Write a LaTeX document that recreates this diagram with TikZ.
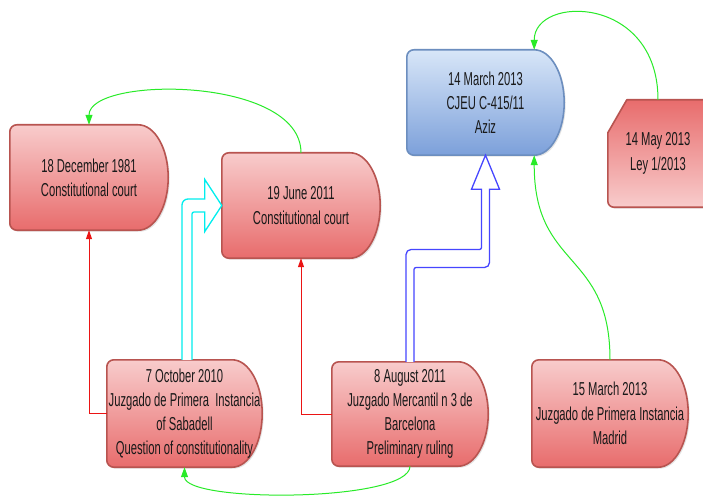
\documentclass[tikz,border=0pt]{standalone}
\usepackage{fontspec}
\setmainfont{Liberation Sans}[FakeStretch=0.6]
\usetikzlibrary{calc,arrows.meta,shadows}
\pgfdeclarelayer{background}
\pgfsetlayers{background,main}
\definecolor{rtop}{RGB}{248,204,204}
\definecolor{rbot}{RGB}{232,108,108}
\definecolor{rline}{RGB}{184,84,80}
\definecolor{btop}{RGB}{216,230,248}
\definecolor{bbot}{RGB}{124,160,218}
\definecolor{bline}{RGB}{108,142,191}
\definecolor{gline}{RGB}{40,235,40}
\definecolor{cline}{RGB}{0,238,238}
\definecolor{blline}{RGB}{70,70,255}
\definecolor{redline}{RGB}{235,20,20}
\definecolor{txtc}{RGB}{25,25,25}
\tikzset{
  lbl/.style={align=center, inner sep=0pt, text=txtc, font=\fontsize{18.7}{24.2}\selectfont},
  boxshadow/.style={drop shadow={opacity=0.22, shadow xshift=1.5pt, shadow yshift=-1.5pt}},
  redbox/.style={boxshadow, shade, top color=rtop, bottom color=rbot, draw=rline, line width=1.6pt, line join=round},
  redboxinv/.style={boxshadow, shade, top color=rbot, bottom color=rtop, draw=rline, line width=1.6pt, line join=round},
  bluebox/.style={boxshadow, shade, top color=btop, bottom color=bbot, draw=bline, line width=1.6pt, line join=round},
  greenconn/.style={draw=gline, line width=1pt, -{Triangle[length=10pt,width=7pt]}},
  redconn/.style={draw=redline, line width=1pt, -{Triangle[length=9pt,width=6pt]}},
  cyanblock/.style={draw=cline, line width=1.3pt, fill=white, line join=miter},
  blueblock/.style={draw=blline, line width=1.3pt, fill=white, line join=miter},
}
\newcommand\delayshape[2]{%
  \path[#2] let \p1=(#1.north west), \p2=(#1.south east), \n1={(\y1-\y2)/2} in
    (\x2-30pt,\y1) -- (\x1+7pt,\y1) arc[start angle=90,end angle=180,radius=7pt]
    -- (\x1,\y2+7pt) arc[start angle=180,end angle=270,radius=7pt]
    -- (\x2-30pt,\y2) arc[start angle=-90,end angle=90,x radius=30pt,y radius=\n1] -- cycle;}
\newcommand\cardshape[2]{%
  \path[#2] let \p1=(#1.north west), \p2=(#1.south east) in
    (\x1+19pt,\y1) -- (\x2,\y1) -- (\x2,\y2) -- (\x1+6pt,\y2)
    arc[start angle=270,end angle=180,radius=6pt] -- (\x1,\y1-33pt) -- cycle;}
\begin{document}
\begin{tikzpicture}[x=1pt,y=1pt]
\useasboundingbox (0,0) rectangle (703,496);
% nodes (text)
\node[lbl, minimum width=158pt, minimum height=105pt] (A) at (89,318.5) {18 December 1981\\Constitutional court};
\node[lbl, minimum width=158pt, minimum height=105pt] (B) at (301,290.5) {19 June 2011\\Constitutional court};
\node[lbl, minimum width=157pt, minimum height=105pt] (C) at (485.5,393.5) {14 March 2013\\CJEU C-415/11\\Aziz};
\node[lbl, minimum width=100pt, minimum height=107pt] (D) at (658,342.5) {14 May 2013\\Ley 1/2013};
\node[lbl, minimum width=155pt, minimum height=107pt] (E) at (184.5,82.5) {7 October 2010\\Juzgado de Primera~ Instancia\\of Sabadell\\Question of constitutionality};
\node[lbl, minimum width=156pt, minimum height=104pt] (F) at (410,82) {8 August 2011\\Juzgado Mercantil n 3 de\\Barcelona\\Preliminary ruling};
\node[lbl, minimum width=156pt, minimum height=107pt] (G) at (610,82.5) {15 March 2013\\Juzgado de Primera Instancia\\Madrid};
% shapes
\begin{pgfonlayer}{background}
  \fill[white] (0,0) rectangle (703,496);
  \delayshape{A}{redbox}
  \delayshape{B}{redbox}
  \delayshape{C}{bluebox}
  \delayshape{E}{redbox}
  \delayshape{F}{redbox}
  \delayshape{G}{redbox}
  \begin{scope}
    \clip (0,0) rectangle (703,496);
    \cardshape{D}{redboxinv}
  \end{scope}
\end{pgfonlayer}
% red connectors
\draw[redconn] (E.west) -| (A.south);
\draw[redconn] (F.west) -| (B.south);
% cyan block arrow
\path[cyanblock] let \p1=([xshift=2.5pt]E.north), \p2=(B.west) in
  (\x1-5pt,\y1) -- (\x1-5pt,\y2+0.5pt) arc[start angle=180,end angle=90,radius=6pt]
  -- (\x2-17pt,\y2+6.5pt) -- (\x2-17pt,\y2+26pt) -- (\x2,\y2) -- (\x2-17pt,\y2-26pt)
  -- (\x2-17pt,\y2-6.5pt) -- (\x1+7pt,\y2-6.5pt) arc[start angle=90,end angle=180,radius=2pt]
  -- (\x1+5pt,\y1);
% blue block arrow
\path[blueblock] let \p1=(F.north), \p2=(C.south), \n1={(\y1+\y2)/2} in
  (\x1-4pt,\y1) -- (\x1-4pt,\n1+4pt) arc[start angle=180,end angle=90,radius=5pt]
  -- (\x2-6pt,\n1+9pt) arc[start angle=-90,end angle=0,radius=2pt]
  -- (\x2-4pt,\y2-34pt) -- (\x2-14pt,\y2-34pt) -- (\x2,\y2) -- (\x2+14pt,\y2-34pt)
  -- (\x2+4pt,\y2-34pt) -- (\x2+4pt,\n1-4pt) arc[start angle=0,end angle=-90,radius=5pt]
  -- (\x1+6pt,\n1-9pt) arc[start angle=90,end angle=180,radius=2pt] -- (\x1+4pt,\y1);
% green connectors
\draw[greenconn] (B.north) .. controls +(0,77) and +(0,49) .. (A.north);
\draw[greenconn] (F.south) .. controls +(0,-36) and +(0,-36) .. (E.south);
\draw[greenconn] (G.north) .. controls +(0,110) and +(0,-115) .. ([xshift=-30pt]C.south east);
\draw[greenconn] (D.north) .. controls +(0,105) and +(0,55) .. ([xshift=-30pt]C.north east);
\end{tikzpicture}
\end{document}
